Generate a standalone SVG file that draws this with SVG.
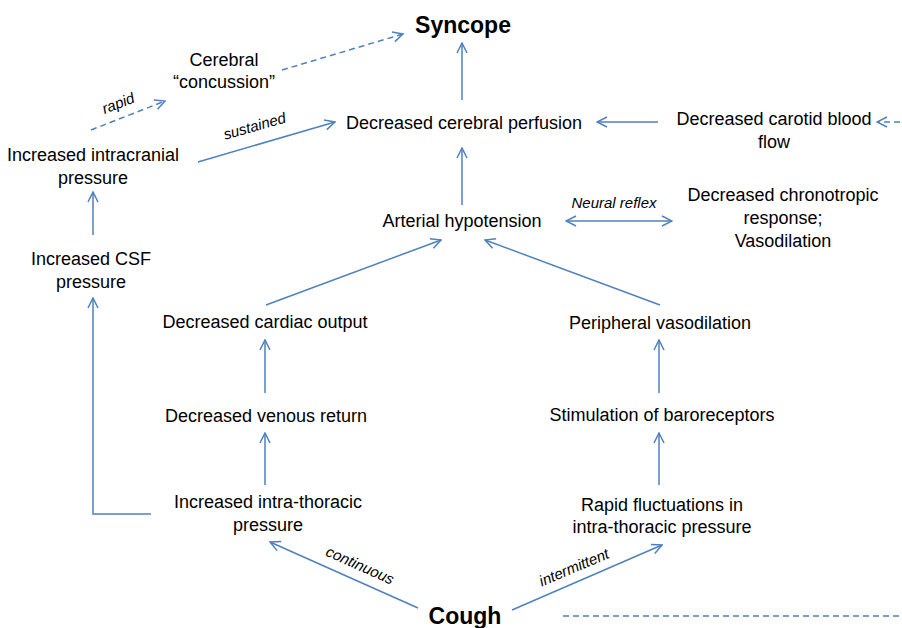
<svg xmlns="http://www.w3.org/2000/svg" width="902" height="628" viewBox="0 0 902 628">
<style>
text{font-family:"Liberation Sans",Arial,sans-serif;fill:#000;text-anchor:middle}
.t{font-size:18px}
.b{font-size:23px;font-weight:bold}
.i{font-size:15px;font-style:italic}
.c{stroke:#4f81bd;stroke-width:1.5;fill:none}
.d{stroke-dasharray:6,4}
</style>
<defs>
<marker id="ah" markerUnits="userSpaceOnUse" viewBox="0 0 12 12" markerWidth="12" markerHeight="12" refX="11" refY="6" orient="auto-start-reverse">
<path d="M1,1 L11,6 L1,11" fill="none" stroke="#4f81bd" stroke-width="1.5"/>
</marker>
</defs>
<g id="connectors">
<line class="c" x1="462" y1="100" x2="462" y2="43" marker-end="url(#ah)"/>
<line class="c" x1="462" y1="205" x2="462" y2="148" marker-end="url(#ah)"/>
<line class="c" x1="658" y1="122" x2="597" y2="122" marker-end="url(#ah)"/>
<line class="c d" x1="900" y1="122" x2="877" y2="122" marker-end="url(#ah)"/>
<line class="c" x1="566" y1="221" x2="672" y2="221" marker-start="url(#ah)" marker-end="url(#ah)"/>
<line class="c d" x1="282" y1="70" x2="403" y2="34" marker-end="url(#ah)"/>
<line class="c d" x1="91" y1="130" x2="165" y2="101" marker-end="url(#ah)"/>
<line class="c" x1="198" y1="162" x2="335" y2="122" marker-end="url(#ah)"/>
<line class="c" x1="93" y1="235" x2="93" y2="192" marker-end="url(#ah)"/>
<polyline class="c" points="151,514 93,514 93,298" marker-end="url(#ah)"/>
<line class="c" x1="266" y1="305" x2="441" y2="240" marker-end="url(#ah)"/>
<line class="c" x1="660" y1="305" x2="485" y2="240" marker-end="url(#ah)"/>
<line class="c" x1="265" y1="393" x2="265" y2="340" marker-end="url(#ah)"/>
<line class="c" x1="659" y1="393" x2="659" y2="340" marker-end="url(#ah)"/>
<line class="c" x1="265" y1="485" x2="265" y2="433" marker-end="url(#ah)"/>
<line class="c" x1="659" y1="485" x2="659" y2="433" marker-end="url(#ah)"/>
<line class="c" x1="418" y1="608" x2="270" y2="542" marker-end="url(#ah)"/>
<line class="c" x1="512" y1="610" x2="662" y2="545" marker-end="url(#ah)"/>
<line class="c d" x1="563" y1="616" x2="900" y2="616"/>
<text class="i" transform="translate(120,108) rotate(-21)">rapid</text>
<text class="i" transform="translate(256,131) rotate(-16)">sustained</text>
<text class="i" x="614" y="208">Neural reflex</text>
<text class="i" transform="translate(358,570) rotate(24)">continuous</text>
<text class="i" transform="translate(576,572) rotate(-23)">intermittent</text>
</g>
<g id="syncope"><text class="b" x="463" y="33">Syncope</text></g>
<g id="cerebral-perfusion"><text class="t" x="464" y="129">Decreased cerebral perfusion</text></g>
<g id="carotid"><text class="t" x="774" y="125">Decreased carotid blood</text><text class="t" x="774" y="148">flow</text></g>
<g id="concussion"><text class="t" x="224" y="66">Cerebral</text><text class="t" x="224" y="88">“concussion”</text></g>
<g id="intracranial"><text class="t" x="93" y="161">Increased intracranial</text><text class="t" x="93" y="184">pressure</text></g>
<g id="hypotension"><text class="t" x="462" y="227">Arterial hypotension</text></g>
<g id="chronotropic"><text class="t" x="783" y="201">Decreased chronotropic</text><text class="t" x="783" y="224">response;</text><text class="t" x="783" y="247">Vasodilation</text></g>
<g id="csf"><text class="t" x="91" y="265">Increased CSF</text><text class="t" x="91" y="288">pressure</text></g>
<g id="cardiac-output"><text class="t" x="265" y="328">Decreased cardiac output</text></g>
<g id="vasodilation"><text class="t" x="660" y="329">Peripheral vasodilation</text></g>
<g id="venous-return"><text class="t" x="266" y="422">Decreased venous return</text></g>
<g id="baroreceptors"><text class="t" x="662" y="421">Stimulation of baroreceptors</text></g>
<g id="intrathoracic"><text class="t" x="268" y="508">Increased intra-thoracic</text><text class="t" x="268" y="531">pressure</text></g>
<g id="fluctuations"><text class="t" x="662" y="511">Rapid fluctuations in</text><text class="t" x="662" y="533">intra-thoracic pressure</text></g>
<g id="cough"><text class="b" x="465" y="624">Cough</text></g>
</svg>
